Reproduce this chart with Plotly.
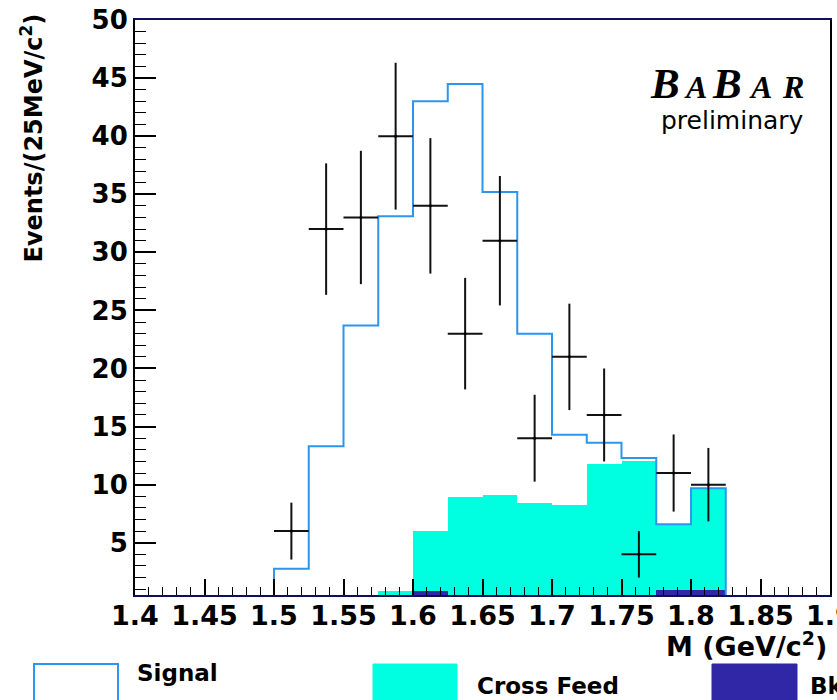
import plotly.graph_objects as go

# ---------------- data ----------------
bin_width = 0.025
# stacked total (signal + cross feed + background) outline, bins starting at these lower edges
total_edges = [1.5, 1.525, 1.55, 1.575, 1.6, 1.625, 1.65, 1.675, 1.7, 1.725, 1.75, 1.775, 1.8]
total_stack = [2.76, 13.3, 23.7, 33.1, 43.0, 44.5, 35.2, 23.0, 14.3, 13.6, 12.3, 6.6, 9.68]

# cross feed (+ background) stacked height
cf_edges = [1.575, 1.6, 1.625, 1.65, 1.675, 1.7, 1.725, 1.75, 1.775, 1.8]
cross_feed_stack = [0.83, 6.0, 8.94, 9.14, 8.45, 8.28, 11.8, 12.07, 6.6, 9.68]

# background
bkg_edges = [1.6, 1.775, 1.8]
background = [0.85, 0.9, 0.9]

# data points
data_x = [1.5125, 1.5375, 1.5625, 1.5875, 1.6125, 1.6375, 1.6625, 1.6875, 1.7125, 1.7375, 1.7625, 1.7875, 1.8125]
data_y = [6, 32, 33, 40, 34, 23, 31, 14, 21, 16, 4, 11, 10]
data_err = [2.45, 5.66, 5.74, 6.32, 5.83, 4.80, 5.57, 3.74, 4.58, 4.0, 2.0, 3.32, 3.16]

x_ticks = [1.4, 1.45, 1.5, 1.55, 1.6, 1.65, 1.7, 1.75, 1.8, 1.85, 1.9]
y_ticks = [5, 10, 15, 20, 25, 30, 35, 40, 45, 50]

legend_labels = ["Signal", "Cross Feed", "Bkg"]

# ---------------- figure ----------------
SIG_COL = "#2b95f0"
CF_COL = "#00ffe0"
BKG_COL = "#2f27a6"
FONT_B = "DejaVu Sans"

W, H = 837, 700
L, R, T, B = 135, 7, 20, 105

def px(x):
    return (x - L) / (W - L - R)

def py(y):
    return (H - B - y) / (H - T - B)

fig = go.Figure()

# signal (stack total) outline
sx = [total_edges[0]] + total_edges + [total_edges[-1] + bin_width, total_edges[-1] + bin_width]
sy = [0] + total_stack + [total_stack[-1], 0]
fig.add_trace(go.Scatter(x=sx, y=sy, mode="lines", line=dict(color=SIG_COL, width=2, shape="hv"),
                         hoverinfo="skip", showlegend=False))

# cross feed
fig.add_trace(go.Bar(x=[e + bin_width / 2 for e in cf_edges], y=cross_feed_stack, width=bin_width,
                     marker=dict(color=CF_COL, line=dict(width=0)),
                     showlegend=False))
# background
fig.add_trace(go.Bar(x=[e + bin_width / 2 for e in bkg_edges], y=background, width=bin_width,
                     marker=dict(color=BKG_COL, line=dict(width=0)),
                     showlegend=False))

# data
fig.add_trace(go.Scatter(x=data_x, y=data_y, mode="markers",
                         marker=dict(color="black", size=3),
                         error_y=dict(type="data", array=data_err, color="#111111", thickness=2, width=0),
                         error_x=dict(type="constant", value=bin_width / 2, color="#111111", thickness=2, width=0),
                         showlegend=False))

fig.update_layout(
    width=W, height=H,
    margin=dict(l=L, r=R, t=T, b=B, autoexpand=False),
    paper_bgcolor="white", plot_bgcolor="white",
    barmode="overlay", bargap=0,
    showlegend=False,
    font=dict(family=FONT_B, color="black"),
)

fig.update_xaxes(
    range=[1.4, 1.9], tickmode="array", tickvals=x_ticks, ticktext=[str(v) for v in x_ticks],
    ticks="inside", ticklen=16, tickwidth=1.5, tickcolor="black",
    minor=dict(ticks="inside", ticklen=8, dtick=0.01, tick0=1.4, tickcolor="black", tickwidth=1.2),
    showline=True, linecolor="#10105a", linewidth=2, mirror=True,
    showgrid=False, zeroline=False, ticklabeloverflow="allow", automargin=False,
    ticklabelstandoff=-4,
    tickfont=dict(family=FONT_B, size=27, weight="bold"),
)
fig.update_yaxes(
    range=[0.5, 50], tickmode="array", tickvals=y_ticks, ticktext=[str(v) for v in y_ticks],
    ticks="inside", ticklen=21, tickwidth=1.5, tickcolor="black",
    minor=dict(ticks="inside", ticklen=11, dtick=1, tick0=0, tickcolor="black", tickwidth=1.2),
    showline=True, linecolor="black", linewidth=2, mirror=True,
    showgrid=False, zeroline=False, automargin=False,
    tickfont=dict(family=FONT_B, size=26, weight="bold"),
)

ann = []
# axis titles
ann.append(dict(text="<b>M (GeV/c<sup>2</sup>)</b>", xref="paper", yref="paper",
                x=px(829), y=py(644), xanchor="right", yanchor="middle", showarrow=False,
                font=dict(family=FONT_B, size=27)))
ann.append(dict(text="<b>Events/(25MeV/c<sup>2</sup>)</b>", xref="paper", yref="paper",
                x=px(31), y=py(12), xanchor="center", yanchor="top", textangle=-90, showarrow=False,
                font=dict(family=FONT_B, size=24)))

# BaBar logo
logo = [("B", 665, 43), ("A", 695, 32), ("B", 727, 43), ("A", 760, 32), ("R", 793, 32)]
for ch, cx, fs in logo:
    ann.append(dict(text="<b><i>%s</i></b>" % ch, xref="paper", yref="paper",
                    x=px(cx), y=py(100), xanchor="center", yanchor="bottom", showarrow=False,
                    yshift=-0.22 * fs,
                    font=dict(family="Liberation Serif", size=fs, color="black")))
ann.append(dict(text="preliminary", xref="paper", yref="paper",
                x=px(806), y=py(121), xanchor="right", yanchor="middle", showarrow=False,
                font=dict(family=FONT_B, size=25, color="black")))

# legend
shapes = []
shapes.append(dict(type="rect", xref="paper", yref="paper", x0=px(34), x1=px(118), y0=py(664), y1=py(710),
                   line=dict(color=SIG_COL, width=2), fillcolor="white"))
shapes.append(dict(type="rect", xref="paper", yref="paper", x0=px(373), x1=px(457), y0=py(664), y1=py(710),
                   line=dict(color=CF_COL, width=1), fillcolor=CF_COL))
shapes.append(dict(type="rect", xref="paper", yref="paper", x0=px(712), x1=px(797), y0=py(664), y1=py(710),
                   line=dict(color=BKG_COL, width=1), fillcolor=BKG_COL))
for label, lx, ly in zip(legend_labels, [135, 475, 808], [673, 686, 686]):
    ann.append(dict(text="<b>%s</b>" % label, xref="paper", yref="paper",
                    x=px(lx), y=py(ly), xanchor="left", yanchor="middle", showarrow=False,
                    font=dict(family=FONT_B, size=23, color="black")))

fig.update_layout(annotations=ann, shapes=shapes)
fig.write_html("out.html")
